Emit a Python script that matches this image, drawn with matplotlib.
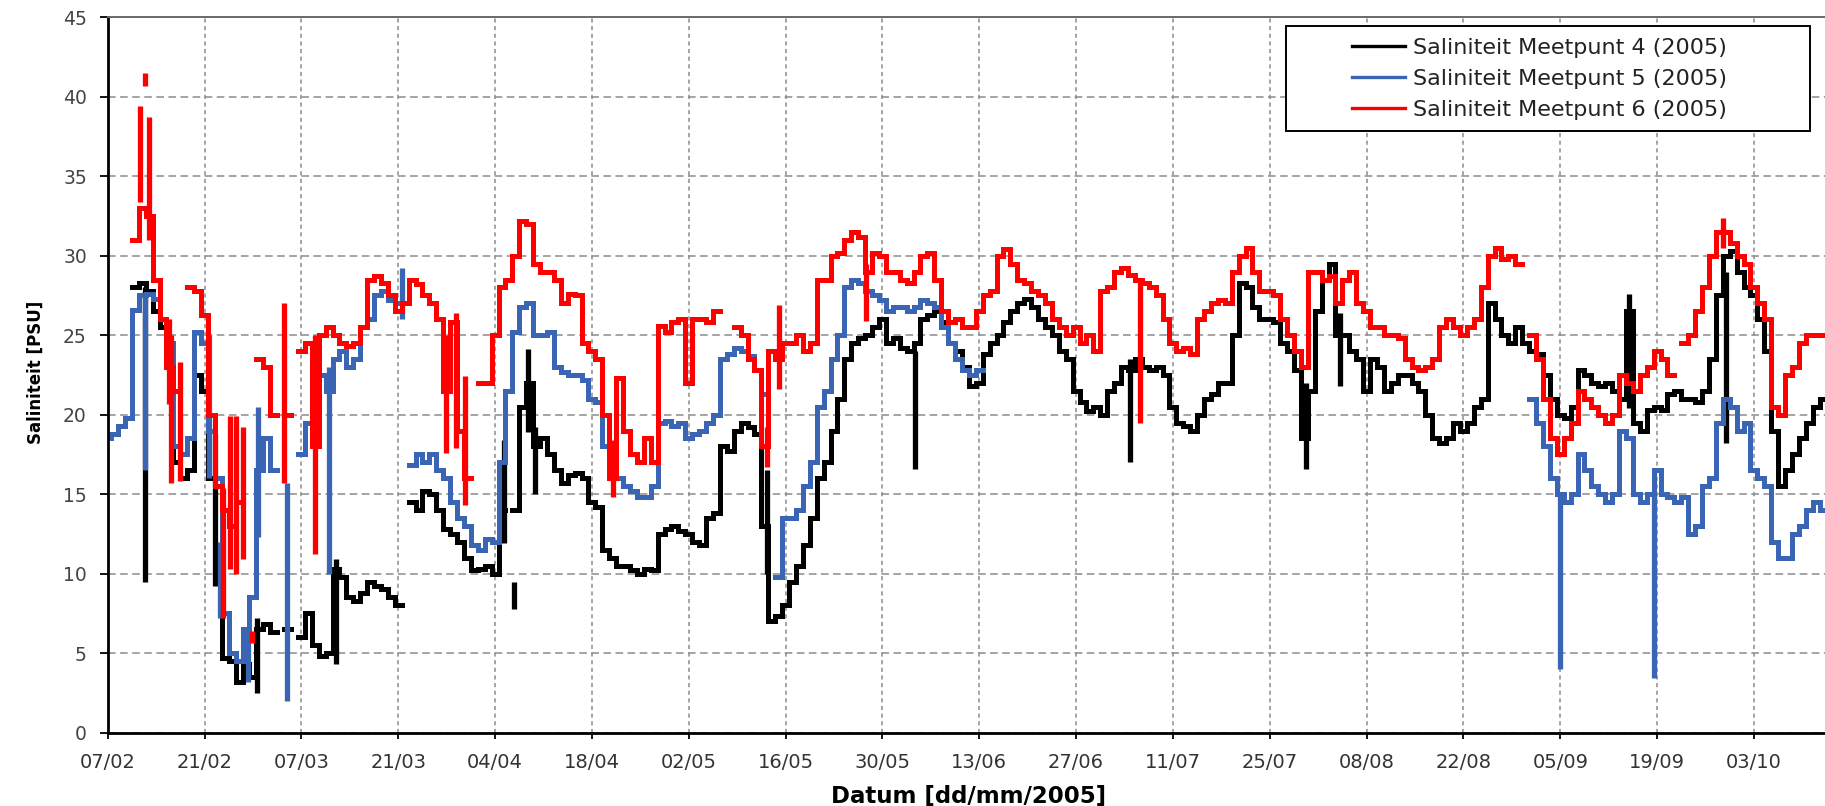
import numpy as np
import matplotlib
matplotlib.use('Agg')
import matplotlib.pyplot as plt
import matplotlib.dates as mdates
from matplotlib.patches import Rectangle

nan = np.nan
plt.rcParams['lines.scale_dashes'] = False
plt.rcParams['font.family'] = ['DejaVu Sans']

# ---------------- data (day offset from 07/02/2005) ----------------
start_date = '2005-02-07'
days = np.arange(0, 249)

tick_labels = ['07/02', '21/02', '07/03', '21/03', '04/04', '18/04', '02/05', '16/05', '30/05',
               '13/06', '27/06', '11/07', '25/07', '08/08', '22/08', '05/09', '19/09', '03/10']

series_names = ['Saliniteit Meetpunt 4 (2005)', 'Saliniteit Meetpunt 5 (2005)', 'Saliniteit Meetpunt 6 (2005)']
series_colors = ['#000000', '#3a64b4', '#ff0000']

m4 = [nan, nan, nan, nan, 28, 28.3, 27.8, 26.5, 25.5, 23,
      17, 16, 16.5, 22.5, 21.5, 16, 9.5, 4.7, 4.5, 3.2,
      4.3, 3.5, 6.5, 6.8, 6.3, nan, 6.5, nan, 6, 7.5,
      5.5, 4.8, 5.0, 10.3, 9.8, 8.5, 8.3, 8.8, 9.5, 9.2,
      9, 8.5, 8, nan, 14.5, 14, 15.2, 15, 14, 12.8,
      12.5, 12, 11, 10.2, 10.3, 10.5, 10, 14, nan, 14,
      20.5, 22, 18, 18.5, 17.5, 16.5, 15.7, 16.2, 16.3, 16,
      14.5, 14.2, 11.5, 11, 10.5, 10.5, 10.2, 10, 10.3, 10.2,
      12.5, 12.8, 13, 12.7, 12.5, 12, 11.8, 13.5, 13.8, 18,
      17.7, 19, 19.5, 19.2, 18.8, 13, 7, 7.3, 8, 9.5,
      10.5, 11.8, 13.5, 16, 17, 19, 21, 23.5, 24.5, 24.8,
      25, 25.5, 26, 24.5, 24.8, 24.2, 24, 24.5, 26, 26.3,
      26.5, 25.8, 24.5, 24, 23, 21.8, 22, 23.8, 24.5, 25,
      25.8, 26.5, 27, 27.3, 26.8, 26, 25.5, 25, 24, 23.5,
      21.5, 20.8, 20.2, 20.5, 20, 21.5, 22, 23, 22.8, 23.5,
      23, 22.8, 23, 22.5, 20.5, 19.5, 19.3, 19, 20, 21,
      21.3, 22, 22, 25, 28.3, 28, 26.8, 26, 26, 25.8,
      24.5, 24, 22.8, 18.5, 21.5, 26.5, 28.5, 29.5, 25, 25,
      24, 23.5, 21.5, 23.5, 23, 21.5, 22, 22.5, 22.5, 22,
      21.5, 20, 18.5, 18.2, 18.5, 19.5, 19, 19.5, 20.5, 21,
      27, 26, 25, 24.5, 25.5, 24.5, 24, 23.8, 22.5, 21,
      20, 19.8, 20.5, 22.8, 22.5, 22, 21.8, 22, 21.5, 21,
      26.5, 19.5, 19, 20.3, 20.5, 20.3, 21.3, 21.5, 21, 21,
      20.8, 21.5, 23.5, 27.5, 30, 30.3, 29, 28, 27.5, 26,
      24, 19, 15.5, 16.5, 17.5, 18.5, 19.5, 20.5, 21]

m5 = ([18.5, 18.8, 19.3, 19.8, 26.6, 27.5, 27.6, 27.3, 26, 24.5,
       18, 17.5, 18.5, 25.2, 24.5, 19, 16, 7.5, 5, 4.5,
       6.5, 8.5, 16.5, 18.5, 16.5, nan, nan, nan, 17.5, 19.5,
       22, 22.5, 21.5, 23.5, 24, 23, 23.5, 25.5, 26, 27.5,
       27.8, 27.2, 27, nan, 16.8, 17.5, 17, 17.5, 16.5, 16,
       14.5, 13.5, 13, 11.8, 11.5, 12.2, 12, 17, 21.5, 25.2,
       26.8, 27, 25, 25, 25.2, 23, 22.7, 22.5, 22.5, 22.2,
       21, 20.8, 18, 16.8, 16, 15.5, 15.2, 14.8, 14.8, 15.5,
       19.5, 19.6, 19.3, 19.5, 18.5, 18.8, 19, 19.5, 20, 23.5,
       23.8, 24.2, 24, 23.7, nan, 21.3, nan, 9.8, 13.5, 13.5,
       14, 15.5, 17, 20.5, 21.5, 23.5, 25, 28, 28.5, 28.3,
       27.8, 27.5, 27.2, 26.5, 26.8, 26.8, 26.5, 26.8, 27.2, 27,
       26.8, 25.5, 24.5, 23.5, 22.8, 22.5, 22.8]
      + [nan] * 79 +
      [21, 19.5, 18, 16,
       15, 14.5, 15, 17.5, 16.5, 15.5, 15, 14.5, 15, 19,
       18.5, 15, 14.5, 15, 16.5, 15, 14.8, 14.5, 14.8, 12.5,
       13, 15.5, 16, 19.5, 21, 20.5, 19, 19.5, 16.5, 16,
       15.5, 12, 11, 11, 12.5, 13, 14, 14.5, 14])

m6 = [nan, nan, nan, nan, 31, 33, 32.5, 28.5, 26, 23,
      21.5, nan, 28, 27.8, 26.3, 20, 15.5, 14, 13, 14.5,
      nan, nan, 23.5, 23, 20, nan, 20, nan, 24, 24.5,
      18, 25, 25.5, 25, 24.5, 24.3, 24.5, 25.5, 28.5, 28.7,
      28.3, 27.5, 26.5, 27, 28.5, 28.2, 27.5, 27, 26, 21.5,
      25.8, 19, 16, nan, 22, 22, 25, 28, 28.5, 30,
      32.2, 32, 29.5, 29, 29, 28.5, 27, 27.6, 27.5, 24.5,
      24, 23.5, 20, 16, 22.3, 19, 17.5, 17, 18.5, 17,
      25.6, 25.2, 25.8, 26, 22, 26, 26, 25.8, 26.5, nan,
      nan, 25.5, 25, 23.5, 22.8, 18, 24, 23.5, 24.5, 24.5,
      25, 24, 24.5, 28.5, 28.5, 30, 30.2, 31, 31.5, 31.2,
      29, 30.2, 30, 29, 29, 28.5, 28.3, 29, 30, 30.2,
      28.5, 26.5, 25.8, 26, 25.5, 25.5, 26.5, 27.5, 27.8, 30,
      30.4, 29.5, 28.5, 28.3, 27.8, 27.5, 27, 26, 25.5, 25,
      25.5, 24.5, 25, 24, 27.8, 28, 29, 29.2, 28.8, 28.5,
      28.3, 28, 27.5, 26, 24.5, 24, 24.2, 23.8, 26, 26.5,
      27, 27.2, 27, 29, 30, 30.5, 29, 27.8, 27.8, 27.5,
      26, 25, 24, 23, 29, 29, 28.5, 28.7, 27, 28.5,
      29, 27, 26.5, 25.5, 25.5, 25, 25, 24.8, 23.5, 23,
      22.8, 23, 23.5, 25.5, 26, 25.5, 25, 25.5, 26, 28,
      30, 30.5, 29.8, 30, 29.5, nan, 25, 23.5, 21, 18.5,
      17.5, 18.5, 19.5, 21.5, 21, 20.5, 20, 19.5, 20, 22.5,
      22, 21.5, 22.5, 23, 24, 23.5, 22.5, nan, 24.5, 25,
      26.5, 28, 30, 31.5, 31.5, 30.8, 30, 29.5, 28, 27,
      26, 20.5, 20, 22.5, 23, 24.5, 25, 25, 25]

# short-lived excursions (day, low, high)
m4_spike_day = [5.4, 15.5, 21.6, 33.0, 57.3, 58.7, 60.8, 61.8, 95.3, 116.7, 147.8, 173.2, 178.2, 220.0, 234.0]
m4_spike_lo = [9.5, 9.2, 2.5, 4.3, 11.9, 7.8, 18.9, 15.0, 10.0, 16.6, 17.0, 16.6, 21.8, 20.4, 18.2]
m4_spike_hi = [28.0, 18.8, 7.2, 10.9, 18.4, 9.5, 24.1, 19.2, 16.5, 24.0, 23.5, 22.0, 26.4, 27.6, 29.0]

m5_spike_day = [5.4, 14.6, 16.2, 20.3, 21.8, 25.9, 32.0, 42.6, 209.9, 223.5]
m5_spike_lo = [16.5, 16.0, 7.2, 3.2, 12.3, 2.0, 10.0, 26.0, 4.0, 3.4]
m5_spike_hi = [27.5, 25.0, 12.0, 6.5, 20.5, 15.7, 23.0, 29.2, 15.0, 15.0]

m6_spike_day = [4.7, 5.4, 5.9, 8.8, 9.1, 10.5, 16.7, 17.7, 18.6, 19.6, 20.8, 25.5, 30.0,
                48.9, 50.4, 51.7, 73.0, 95.3, 97.0, 109.6, 149.2, 233.5]
m6_spike_lo = [33.4, 40.7, 31.0, 20.7, 15.7, 15.8, 7.2, 10.3, 10.0, 10.9, 5.6, 15.7, 11.2,
               17.6, 17.9, 14.3, 14.8, 16.7, 21.6, 25.9, 19.5, 30.5]
m6_spike_hi = [39.4, 41.5, 38.7, 26.0, 25.0, 23.3, 15.4, 19.9, 19.9, 19.2, 6.4, 27.0, 25.0,
               25.0, 26.4, 22.4, 18.4, 19.2, 26.9, 29.5, 28.5, 32.4]

# ---------------- figure ----------------
W, H = 1825, 806
fig = plt.figure(figsize=(W / 100, H / 100), dpi=100)
ax_l, ax_r, ax_t, ax_b = 107.7, 1826.0, 17.3, 732.5
ax = fig.add_axes([ax_l / W, 1 - ax_b / H, (ax_r - ax_l) / W, (ax_b - ax_t) / H])

x0 = mdates.datestr2num(start_date)
x = x0 + days

series = [m4, m5, m6]
spikes = [(m4_spike_day, m4_spike_lo, m4_spike_hi),
          (m5_spike_day, m5_spike_lo, m5_spike_hi),
          (m6_spike_day, m6_spike_lo, m6_spike_hi)]
handles = []
for i, (vals, col, name) in enumerate(zip(series, series_colors, series_names)):
    ln, = ax.plot(x, np.array(vals, dtype=float), color=col, lw=3.6,
                  drawstyle='steps-mid', solid_joinstyle='miter', label=name, zorder=2 + i * 0.1)
    sd, lo, hi = spikes[i]
    ax.vlines(x0 + np.array(sd), lo, hi, color=col, lw=3.8, zorder=2 + i * 0.1)
    handles.append(ln)

# axes
tick_pos = [mdates.datestr2num('2005-%s-%s' % (t[3:], t[:2])) for t in tick_labels]
ax.set_xticks(tick_pos)
ax.set_xticklabels(tick_labels)
ax.set_xlim(x0, x0 + (ax_r - ax_l) / 6.917)
ax.set_ylim(0, 45)
ax.set_yticks(np.arange(0, 46, 5))

ax.grid(axis='x', color='#8c8c8c', lw=1.1, linestyle=(0, (3, 2.5)))
ax.grid(axis='y', color='#8c8c8c', lw=1.1, linestyle=(0, (5.5, 3.2)))
ax.set_axisbelow(True)

for s in ['left', 'bottom']:
    ax.spines[s].set_linewidth(2.0)
    ax.spines[s].set_color('black')
ax.spines['top'].set_linewidth(1.4)
ax.spines['top'].set_color('#6a6a6a')
ax.spines['right'].set_visible(False)

ax.tick_params(axis='y', direction='out', length=6, width=1.3, pad=9,
               labelsize=13.5, labelcolor='#444444')
ax.tick_params(axis='x', direction='out', length=4.3, width=1.3, pad=10.5,
               labelsize=14, labelcolor='#333333')

fig.text(969 / W, 1 - 796 / H, 'Datum [dd/mm/2005]', ha='center', va='center',
         fontsize=16.5, fontweight='bold', color='black')
fig.text(36 / W, 1 - 372 / H, 'Saliniteit [PSU]', rotation=90, ha='center', va='center',
         fontsize=12, fontweight='bold', color='black')

# legend with box
box = Rectangle((1286 / W, 1 - 131 / H), (1810 - 1286) / W, (131 - 26) / H,
                transform=fig.transFigure, facecolor='white', edgecolor='black',
                lw=1.4, zorder=5, clip_on=False)
ax.add_patch(box)
leg = ax.legend(handles=handles, loc='upper left', bbox_to_anchor=(1352 / W, 1 - 38 / H),
                bbox_transform=fig.transFigure, frameon=False, borderpad=0, borderaxespad=0,
                handlelength=2.4, handletextpad=0.35, labelspacing=0.5, fontsize=16)
for t in leg.get_texts():
    t.set_color('#222222')
for h in leg.legend_handles:
    h.set_linewidth(2.4)
leg.set_zorder(6)

fig.savefig('out.png', dpi=100)
